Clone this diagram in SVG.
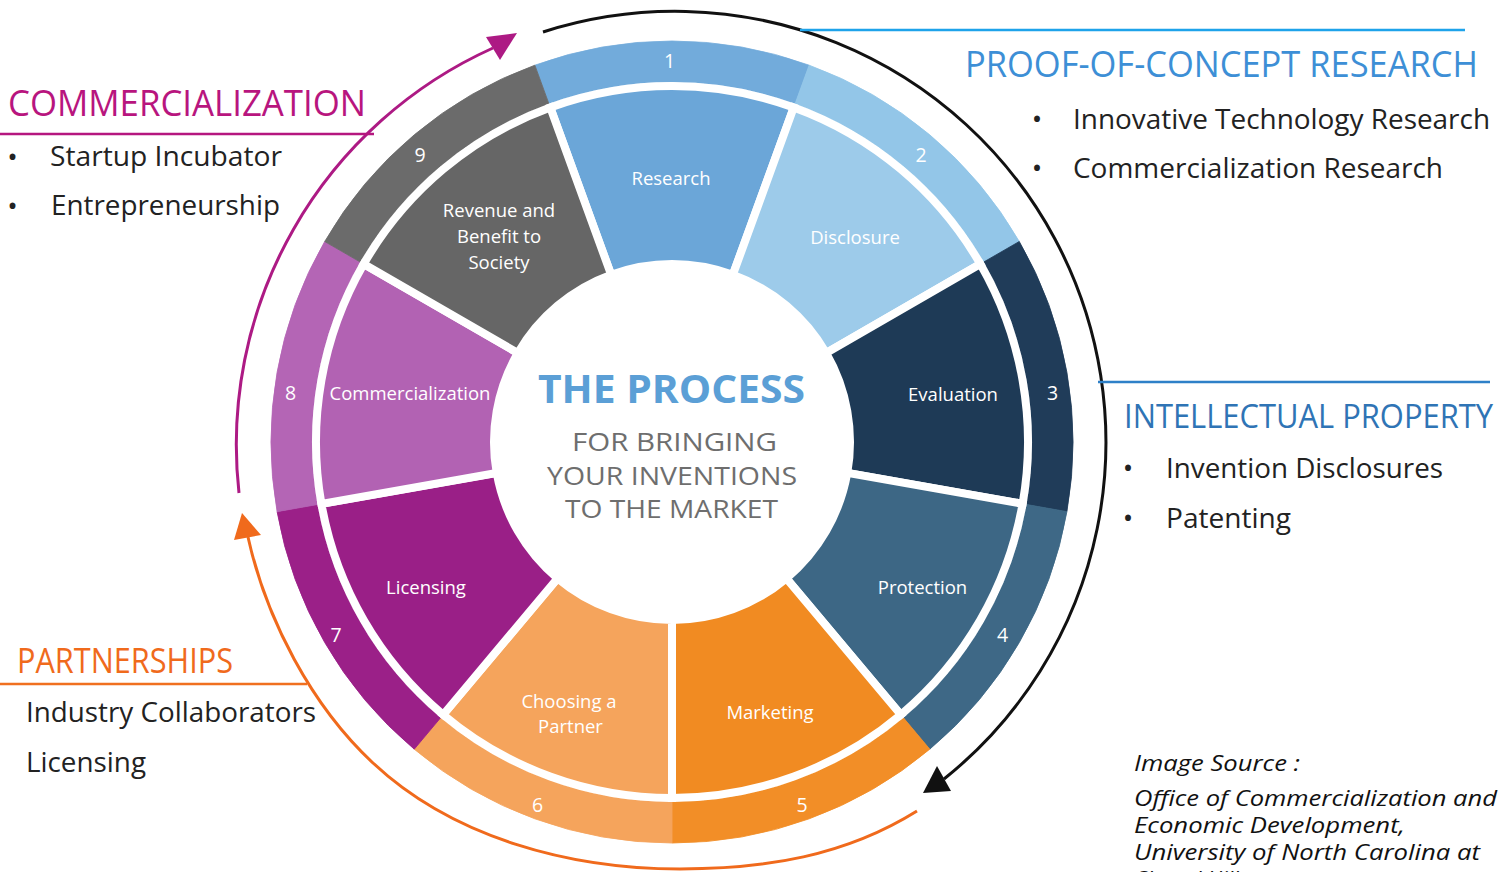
<svg xmlns="http://www.w3.org/2000/svg" width="1510" height="872" viewBox="0 0 1510 872">
<style>
text{font-family:"Open Sans","Noto Sans","DejaVu Sans",sans-serif}
.wl{font-size:18.5px;fill:#fff;text-anchor:middle}
.num{font-size:19.5px;fill:#fff;text-anchor:middle}
.body{font-size:28px;fill:#222}
.bul{font-size:28px;fill:#222;text-anchor:middle}
.src{font-size:22px;font-style:italic;fill:#111}
.sub{font-size:26px;fill:#6e6e6e;text-anchor:middle}
.wedge{stroke:#fff;stroke-width:8;stroke-linejoin:miter}
.conn{fill:none;stroke-width:3}
</style>
<defs>
<path id="seg" d="M -137.15 -376.82 A 401 401 0 0 1 137.15 -376.82 L 123.13 -338.29 A 360 360 0 0 0 -123.13 -338.29 Z"/>
<path id="wedge" d="M -121.76 -334.53 A 356 356 0 0 1 121.76 -334.53 L 60.88 -167.27 A 178 178 0 0 0 -60.88 -167.27 Z"/>
</defs>
<rect width="1510" height="872" fill="#fff"/>

<g id="wheel-ring">
<use href="#seg" transform="translate(672 442) rotate(0)" fill="#72abdb" stroke="#72abdb" stroke-width="0.8"/>
<use href="#seg" transform="translate(672 442) rotate(40)" fill="#93c6e8" stroke="#93c6e8" stroke-width="0.8"/>
<use href="#seg" transform="translate(672 442) rotate(80)" fill="#203c59" stroke="#203c59" stroke-width="0.8"/>
<use href="#seg" transform="translate(672 442) rotate(120)" fill="#3e6886" stroke="#3e6886" stroke-width="0.8"/>
<use href="#seg" transform="translate(672 442) rotate(160)" fill="#f28e27" stroke="#f28e27" stroke-width="0.8"/>
<use href="#seg" transform="translate(672 442) rotate(200)" fill="#f5a45c" stroke="#f5a45c" stroke-width="0.8"/>
<use href="#seg" transform="translate(672 442) rotate(240)" fill="#9b2088" stroke="#9b2088" stroke-width="0.8"/>
<use href="#seg" transform="translate(672 442) rotate(280)" fill="#b465b5" stroke="#b465b5" stroke-width="0.8"/>
<use href="#seg" transform="translate(672 442) rotate(320)" fill="#6b6b6b" stroke="#6b6b6b" stroke-width="0.8"/>
</g>

<g id="step1">
<use href="#wedge" class="wedge" transform="translate(672 442) rotate(0)" fill="#6ba6d8"/>
<text class="num" x="669.5" y="68">1</text>
<text class="wl" x="671" y="185">Research</text>
</g>
<g id="step2">
<use href="#wedge" class="wedge" transform="translate(672 442) rotate(40)" fill="#9dcbea"/>
<text class="num" x="921" y="162">2</text>
<text class="wl" x="855" y="244">Disclosure</text>
</g>
<g id="step3">
<use href="#wedge" class="wedge" transform="translate(672 442) rotate(80)" fill="#1e3a56"/>
<text class="num" x="1052.5" y="400">3</text>
<text class="wl" x="953" y="401">Evaluation</text>
</g>
<g id="step4">
<use href="#wedge" class="wedge" transform="translate(672 442) rotate(120)" fill="#3d6785"/>
<text class="num" x="1002.5" y="642">4</text>
<text class="wl" x="922.5" y="594">Protection</text>
</g>
<g id="step5">
<use href="#wedge" class="wedge" transform="translate(672 442) rotate(160)" fill="#f18b22"/>
<text class="num" x="802" y="812">5</text>
<text class="wl" x="770" y="719">Marketing</text>
</g>
<g id="step6">
<use href="#wedge" class="wedge" transform="translate(672 442) rotate(200)" fill="#f5a45c"/>
<text class="num" x="537.5" y="812">6</text>
<text class="wl" x="569" y="708">Choosing a</text>
<text class="wl" x="570.5" y="733">Partner</text>
</g>
<g id="step7">
<use href="#wedge" class="wedge" transform="translate(672 442) rotate(240)" fill="#9a1f87"/>
<text class="num" x="336" y="642">7</text>
<text class="wl" x="426" y="594">Licensing</text>
</g>
<g id="step8">
<use href="#wedge" class="wedge" transform="translate(672 442) rotate(280)" fill="#b262b3"/>
<text class="num" x="290.5" y="400">8</text>
<text class="wl" x="410" y="400">Commercialization</text>
</g>
<g id="step9">
<use href="#wedge" class="wedge" transform="translate(672 442) rotate(320)" fill="#666666"/>
<text class="num" x="420" y="162">9</text>
<text class="wl" x="499" y="217">Revenue and</text>
<text class="wl" x="499" y="243">Benefit to</text>
<text class="wl" x="499" y="269">Society</text>
</g>

<g id="center">
<text x="671.5" y="403" font-size="39" font-weight="bold" fill="#5b9fd6" text-anchor="middle" textLength="267" lengthAdjust="spacingAndGlyphs">THE PROCESS</text>
<text class="sub" x="674.5" y="451" textLength="205" lengthAdjust="spacingAndGlyphs">FOR BRINGING</text>
<text class="sub" x="672" y="485" textLength="250" lengthAdjust="spacingAndGlyphs">YOUR INVENTIONS</text>
<text class="sub" x="671.5" y="518" textLength="213" lengthAdjust="spacingAndGlyphs">TO THE MARKET</text>
</g>

<g id="connectors">
<path class="conn" stroke="#111" d="M 543 32 A 431 431 0 0 1 944 779"/>
<polygon fill="#111" points="923,793 937,766 951,791"/>
<path class="conn" stroke="#ad1a84" d="M 239 493 A 435 435 0 0 1 493 48"/>
<polygon fill="#ad1a84" points="517,33 486,37 500,60"/>
<path class="conn" stroke="#f06a1c" d="M 917 811 C 845 856 765 869 680 869 C 570 869 453 838 373 763 C 311.5 705.7 266 619 248 537"/>
<polygon fill="#f06a1c" points="242,513 234,540 261,535"/>
</g>

<g id="commercialization-box">
<line x1="0" y1="134" x2="374" y2="134" stroke="#b5177f" stroke-width="2.5"/>
<text x="8" y="116" font-size="37" fill="#b8157e" textLength="358" lengthAdjust="spacingAndGlyphs">COMMERCIALIZATION</text>
<text class="bul" x="12.5" y="167">•</text>
<text class="body" x="50" y="166" textLength="232" lengthAdjust="spacingAndGlyphs">Startup Incubator</text>
<text class="bul" x="12.5" y="216">•</text>
<text class="body" x="51" y="215" textLength="229" lengthAdjust="spacingAndGlyphs">Entrepreneurship</text>
</g>

<g id="proof-box">
<line x1="800" y1="30" x2="1465" y2="30" stroke="#1ea3ea" stroke-width="2.5"/>
<text x="965" y="77" font-size="36" fill="#3d8fd6" textLength="513" lengthAdjust="spacingAndGlyphs">PROOF-OF-CONCEPT RESEARCH</text>
<text class="bul" x="1037" y="129">•</text>
<text class="body" x="1073" y="129" textLength="417" lengthAdjust="spacingAndGlyphs">Innovative Technology Research</text>
<text class="bul" x="1037" y="178">•</text>
<text class="body" x="1073" y="178" textLength="370" lengthAdjust="spacingAndGlyphs">Commercialization Research</text>
</g>

<g id="ip-box">
<line x1="1098" y1="382" x2="1490" y2="382" stroke="#2e80c8" stroke-width="2.5"/>
<text x="1124" y="428" font-size="32" fill="#2f74b5" textLength="369" lengthAdjust="spacingAndGlyphs">INTELLECTUAL PROPERTY</text>
<text class="bul" x="1128" y="478">•</text>
<text class="body" x="1166" y="478" textLength="277" lengthAdjust="spacingAndGlyphs">Invention Disclosures</text>
<text class="bul" x="1128" y="528">•</text>
<text class="body" x="1166" y="528" textLength="125" lengthAdjust="spacingAndGlyphs">Patenting</text>
</g>

<g id="partnerships-box">
<line x1="0" y1="684" x2="307" y2="684" stroke="#f07020" stroke-width="2.5"/>
<text x="17" y="673" font-size="35" fill="#f06a1c" textLength="216" lengthAdjust="spacingAndGlyphs">PARTNERSHIPS</text>
<text class="body" x="26" y="722" textLength="290" lengthAdjust="spacingAndGlyphs">Industry Collaborators</text>
<text class="body" x="26" y="772" textLength="120" lengthAdjust="spacingAndGlyphs">Licensing</text>
</g>

<g id="source">
<text class="src" x="1134" y="771" textLength="166" lengthAdjust="spacingAndGlyphs">Image Source :</text>
<text class="src" x="1134" y="806" textLength="363" lengthAdjust="spacingAndGlyphs">Office of Commercialization and</text>
<text class="src" x="1134" y="833" textLength="271" lengthAdjust="spacingAndGlyphs">Economic Development,</text>
<text class="src" x="1134" y="860" textLength="346" lengthAdjust="spacingAndGlyphs">University of North Carolina at</text>
<text class="src" x="1134" y="887">Chapel Hill</text>
</g>
</svg>
